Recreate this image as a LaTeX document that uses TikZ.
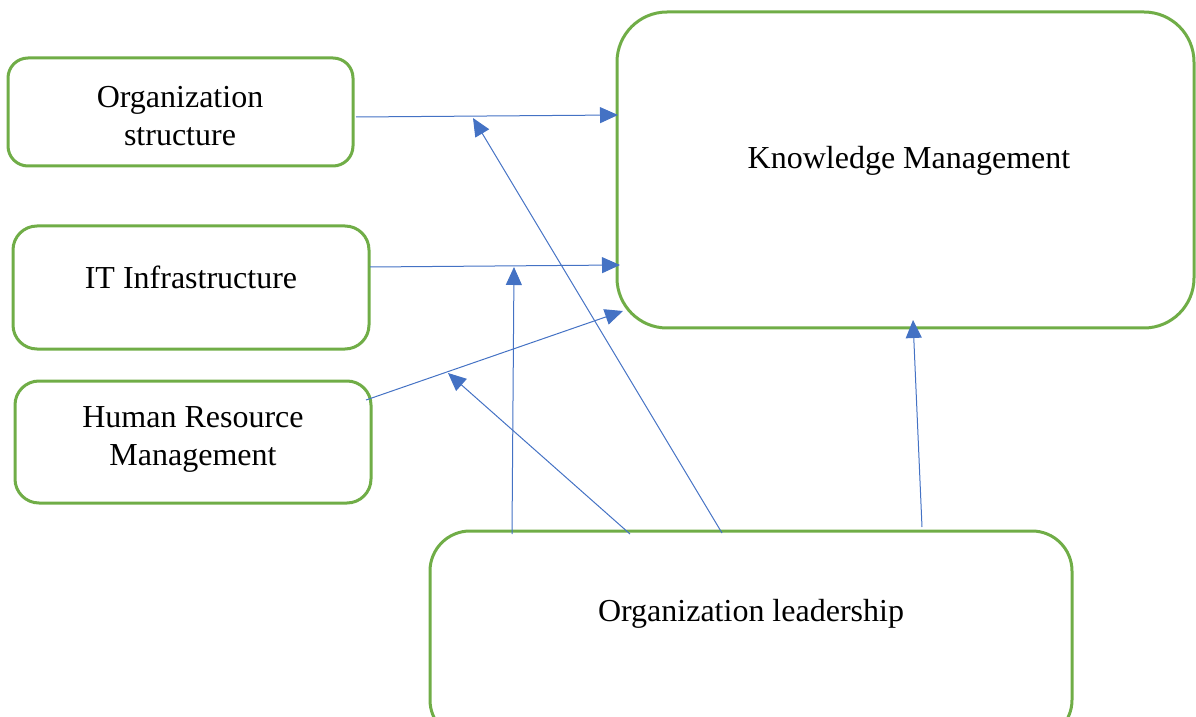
\documentclass[tikz,border=0pt]{standalone}
\usepackage{fontspec}
\setmainfont{Liberation Serif}
\usetikzlibrary{arrows.meta}
\definecolor{boxgreen}{HTML}{70AD47}
\definecolor{arrowblue}{HTML}{4472C4}
\begin{document}
\begin{tikzpicture}[x=0.5pt,y=-0.5pt,
  box/.style={draw=boxgreen, line width=1.5pt, rectangle, inner sep=0pt},
  lbl/.style={font=\fontsize{16pt}{19pt}\selectfont, align=center, inner sep=0pt},
  conn/.style={draw=arrowblue, line width=0.5pt, -{Triangle[length=9pt,width=8pt]}}]
\useasboundingbox (0,0) rectangle (1196,717);
% boxes
\node[box, rounded corners=10pt, minimum width=172.5pt, minimum height=54pt] (os) at (180.5,112) {};
\node[box, rounded corners=12pt, minimum width=178pt, minimum height=61.5pt] (it) at (191,287.5) {};
\node[box, rounded corners=12pt, minimum width=178pt, minimum height=61pt] (hrm) at (193,442) {};
\node[box, rounded corners=25pt, minimum width=288.5pt, minimum height=158pt] (km) at (905.5,170) {};
\node[box, rounded corners=20pt, minimum width=321pt, minimum height=104.5pt] (ol) at (751,635.5) {};
% labels
\node[lbl] (osl) at (180,116) {Organization\\structure};
\node[lbl] (itl) at (191,277) {IT Infrastructure};
\node[lbl] (hrml) at (193,439) {Human Resource\\Management};
\node[lbl] (kml) at (909,161) {Knowledge Management};
\node[lbl] (oll) at (751,614) {Organization leadership};
% connector coordinates
\coordinate (a1s) at (356,117);
\coordinate (a1e) at (618,115);
\coordinate (a2s) at (370,267);
\coordinate (a2e) at (620,265);
\coordinate (a3s) at (366,400);
\coordinate (a3e) at (623,311);
\coordinate (m1) at (473,118);
\coordinate (m2) at (514,267);
\coordinate (m3) at (448,373);
\coordinate (l1) at (722,533);
\coordinate (l2) at (512,534);
\coordinate (l3) at (630,534);
\coordinate (l4) at (922,527);
\coordinate (k4) at (913,320);
% connectors
\draw[conn] (a1s) -- (a1e);
\draw[conn] (a2s) -- (a2e);
\draw[conn] (a3s) -- (a3e);
\draw[conn] (l1) -- (m1);
\draw[conn] (l2) -- (m2);
\draw[conn] (l3) -- (m3);
\draw[conn] (l4) -- (k4);
\end{tikzpicture}
\end{document}
